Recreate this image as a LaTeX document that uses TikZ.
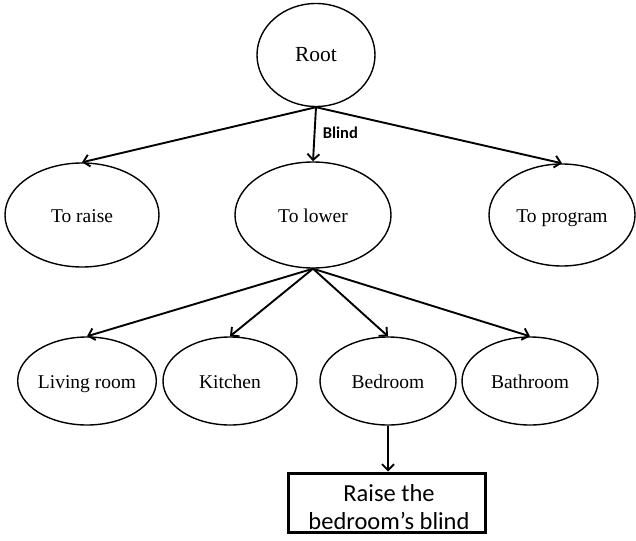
\documentclass[tikz,border=0pt]{standalone}
\usepackage{fontspec}
\setmainfont{Liberation Serif}
\newfontfamily\carlito{Carlito}
\usetikzlibrary{shapes.geometric,arrows.meta}

\begin{document}
\begin{tikzpicture}[x=1pt,y=-1pt,
  oval/.style={ellipse,draw,line width=1.4pt,inner sep=0pt,
    text height=16pt,text depth=2pt,
    font=\fontsize{19.5}{23}\selectfont},
  link/.style={line width=1.9pt,-{Straight Barb[length=6pt,width=12pt,line width=1.9pt]}},
  result/.style={draw,line width=3pt,inner sep=0pt,minimum width=197pt,minimum height=59pt},
  resulttext/.style={align=center,inner sep=0pt,font=\carlito\fontsize{24.5}{28}\selectfont}]
  \useasboundingbox (0,0) rectangle (636,540);

  % top level
  \node[oval,minimum width=118pt,minimum height=103pt,font=\fontsize{21.5}{25}\selectfont] (root) at (316,55) {Root};

  % actions
  \node[oval,minimum width=154pt,minimum height=104pt] (raise) at (82,215) {To raise};
  \node[oval,minimum width=156pt,minimum height=106pt] (lower) at (313,215) {To lower};
  \node[oval,minimum width=146pt,minimum height=102pt] (program) at (562,215) {To program};

  % rooms
  \node[oval,minimum width=136pt,minimum height=88pt] (living) at (87,381) {Living room};
  \node[oval,minimum width=134pt,minimum height=88pt] (kitchen) at (230,381) {Kitchen};
  \node[oval,minimum width=136pt,minimum height=88pt] (bedroom) at (388,381) {Bedroom};
  \node[oval,minimum width=136pt,minimum height=88pt] (bathroom) at (530,381) {Bathroom};

  % final command box and its text
  \node[result] (cmd) at (386.5,502.5) {};
  \node[resulttext] (cmdtext) at (389,507) {Raise the\\bedroom’s blind};

  % connectors
  \draw[link] (root.south) -- (raise.north);
  \draw[link] (root.south) -- node[right=4pt,yshift=1pt,font=\carlito\bfseries\fontsize{16.5}{19}\selectfont] (blindlbl) {Blind} (lower.north);
  \draw[link] (root.south) -- (program.north);

  \draw[link] (lower.south) -- (living.north);
  \draw[link] (lower.south) -- (kitchen.north);
  \draw[link] (lower.south) -- (bedroom.north);
  \draw[link] (lower.south) -- (bathroom.north);

  \draw[link] (bedroom.south) -- (bedroom.south |- cmd.north);
\end{tikzpicture}
\end{document}
